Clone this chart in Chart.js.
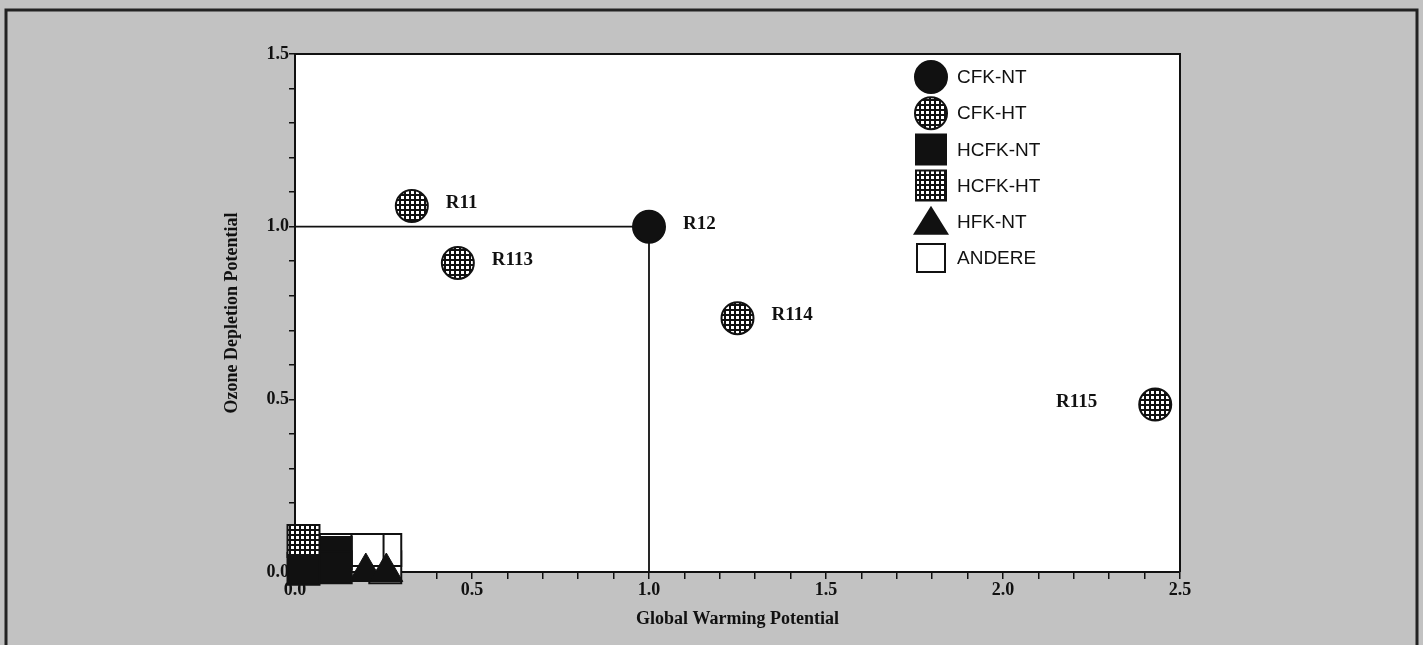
<!DOCTYPE html>
<html>
<head>
<meta charset="utf-8">
<script src="https://cdn.jsdelivr.net/npm/chart.js@4.4.0/dist/chart.umd.min.js"></script>
<style>
  body { margin: 0; background: #c2c2c2; }
  canvas { display: block; }
</style>
</head>
<body>
<canvas id="canvas" width="1423" height="645"></canvas>
<script>
// values (GWP, ODP)
var cfkNT = [{x: 1.0, y: 1.0}]
var cfkNTNames = ['R12']
var cfkHT = [{x: 0.33, y: 1.06}, {x: 0.46, y: 0.895}, {x: 1.25, y: 0.735}, {x: 2.43, y: 0.485}]
var cfkHTNames = ['R11', 'R113', 'R114', 'R115']
var hcfkNT = [{x: 0.115, y: 0.055}, {x: 0.115, y: 0.014}, {x: 0.024, y: 0.009}]
var hcfkHT = [{x: 0.024, y: 0.09}]
var hfkNT = [{x: 0.2, y: 0.0}, {x: 0.258, y: 0.0}]
// later entries are painted over earlier ones
var andere = [{x: 0.115, y: 0.064}, {x: 0.255, y: 0.014}, {x: 0.255, y: 0.064}, {x: 0.205, y: 0.064}]
var r12Lines = [{x: 0, y: 1}, {x: 1, y: 1}, {x: 1, y: 0}]

var legendNames = ['CFK-NT', 'CFK-HT', 'HCFK-NT', 'HCFK-HT', 'HFK-NT', 'ANDERE']
var xTickLabels = ['0.0', '0.5', '1.0', '1.5', '2.0', '2.5']
var yTickLabels = ['0.0', '0.5', '1.0', '1.5']

var ink = '#111'

function makeHatch() {
    var c = document.createElement('canvas')
    c.width = 5; c.height = 5
    var g = c.getContext('2d')
    g.fillStyle = ink
    g.fillRect(0, 0, 5, 5)
    g.fillStyle = '#fff'
    g.fillRect(1, 1, 3, 3)
    return g.createPattern(c, 'repeat')
}
var hatch = makeHatch()

function labelFor(list) {
    return function(value) {
        var s = Number(value).toFixed(1)
        return list.indexOf(s) >= 0 && Math.abs(value * 2 - Math.round(value * 2)) < 1e-6 ? s : ''
    }
}

// gray page, frame, white plot area
var backdrop = {
    id: 'backdrop',
    beforeDraw: function(chart) {
        var ctx = chart.ctx, a = chart.chartArea
        ctx.save()
        ctx.fillStyle = '#c2c2c2'
        ctx.fillRect(0, 0, chart.width, chart.height)
        ctx.strokeStyle = '#222'
        ctx.lineWidth = 3
        ctx.beginPath()
        ctx.moveTo(6, chart.height)
        ctx.lineTo(6, 10)
        ctx.lineTo(1417, 10)
        ctx.lineTo(1417, chart.height)
        ctx.stroke()
        ctx.fillStyle = '#fff'
        ctx.fillRect(a.left, a.top, a.right - a.left, a.bottom - a.top)
        ctx.restore()
    },
    afterDatasetsDraw: function(chart) {
        var ctx = chart.ctx, a = chart.chartArea
        ctx.save()
        ctx.strokeStyle = ink
        ctx.lineWidth = 2
        ctx.beginPath()
        ctx.moveTo(a.left, a.top)
        ctx.lineTo(a.right, a.top)
        ctx.lineTo(a.right, a.bottom)
        ctx.stroke()
        ctx.restore()
    }
}

// R-number labels next to the CFK points
var pointNames = {
    id: 'pointNames',
    afterDatasetsDraw: function(chart) {
        var ctx = chart.ctx
        var xs = chart.scales.x, ys = chart.scales.y
        ctx.save()
        ctx.font = 'bold 19px "Liberation Serif", serif'
        ctx.fillStyle = ink
        ctx.textBaseline = 'middle'
        function put(points, names) {
            points.forEach(function(p, i) {
                var px = xs.getPixelForValue(p.x), py = ys.getPixelForValue(p.y)
                if (names[i] == 'R115') {
                    ctx.textAlign = 'right'
                    ctx.fillText(names[i], px - 58, py - 2)
                } else {
                    ctx.textAlign = 'left'
                    ctx.fillText(names[i], px + 34, py - 3)
                }
            })
        }
        put(cfkNT, cfkNTNames)
        put(cfkHT, cfkHTNames)
        ctx.restore()
    }
}

// legend box inside the plot, top right
var markerLegend = {
    id: 'markerLegend',
    afterDraw: function(chart) {
        var ctx = chart.ctx
        var mx = 931, tx = 957, y0 = 77, step = 36.2
        ctx.save()
        ctx.font = '19px "Liberation Sans", Arial, sans-serif'
        ctx.textBaseline = 'middle'
        ctx.textAlign = 'left'
        legendNames.forEach(function(name, i) {
            var y = y0 + i * step
            ctx.strokeStyle = ink
            ctx.lineWidth = 2
            ctx.beginPath()
            if (i == 0 || i == 1) {
                ctx.arc(mx, y, 16, 0, Math.PI * 2)
                ctx.fillStyle = i == 0 ? ink : hatch
                ctx.fill(); ctx.stroke()
            } else if (i == 2 || i == 3) {
                ctx.rect(mx - 15, y - 15, 30, 30)
                ctx.fillStyle = i == 2 ? ink : hatch
                ctx.fill(); ctx.stroke()
            } else if (i == 4) {
                ctx.moveTo(mx, y - 16)
                ctx.lineTo(mx + 18, y + 13)
                ctx.lineTo(mx - 18, y + 13)
                ctx.closePath()
                ctx.fillStyle = ink
                ctx.fill()
            } else {
                ctx.rect(mx - 14, y - 14, 28, 28)
                ctx.fillStyle = '#fff'
                ctx.fill(); ctx.stroke()
            }
            ctx.fillStyle = ink
            ctx.fillText(name, tx, y + 1)
        })
        ctx.restore()
    }
}

var ctx = document.getElementById('canvas').getContext('2d')

var chart = new Chart(ctx, {
    type: 'scatter',
    data: {
        datasets: [
            { label: 'CFK-NT', data: cfkNT, pointStyle: 'circle', pointRadius: 16, backgroundColor: ink, borderColor: ink, borderWidth: 2 },
            { label: 'CFK-HT', data: cfkHT, pointStyle: 'circle', pointRadius: 16, backgroundColor: hatch, borderColor: ink, borderWidth: 2 },
            { label: 'HCFK-HT', data: hcfkHT, pointStyle: 'rect', pointRadius: 22.6, backgroundColor: hatch, borderColor: ink, borderWidth: 2 },
            { label: 'HCFK-NT', data: hcfkNT, pointStyle: 'rect', pointRadius: 22.6, backgroundColor: ink, borderColor: ink, borderWidth: 2 },
            { label: 'HFK-NT', data: hfkNT, pointStyle: 'triangle', pointRadius: 19, backgroundColor: ink, borderColor: ink, borderWidth: 1 },
            { label: 'ANDERE', data: andere, pointStyle: 'rect', pointRadius: 22.6, backgroundColor: '#fff', borderColor: ink, borderWidth: 2 },
            { label: 'R12', data: r12Lines, showLine: true, pointRadius: 0, borderColor: ink, borderWidth: 1.8, backgroundColor: ink }
        ]
    },
    options: {
        responsive: false,
        animation: false,
        clip: false,
        layout: { padding: { left: 222, right: 243, top: 54, bottom: 15 } },
        plugins: {
            legend: { display: false },
            tooltip: { enabled: false }
        },
        scales: {
            x: {
                type: 'linear',
                min: 0, max: 2.5,
                afterFit: function(scale) { scale.height = 58 },
                border: { display: true, color: ink, width: 2 },
                grid: { drawOnChartArea: false, drawTicks: true, tickLength: 7, color: ink, lineWidth: 1.5 },
                ticks: {
                    stepSize: 0.1, autoSkip: false, maxRotation: 0, padding: 1,
                    color: ink, font: { family: '"Liberation Serif", serif', size: 18, weight: 'bold' },
                    callback: labelFor(xTickLabels)
                },
                title: {
                    display: true, text: 'Global Warming Potential', color: ink,
                    font: { family: '"Liberation Serif", serif', size: 18, weight: 'bold' },
                    padding: { top: 0, bottom: 0 }
                }
            },
            y: {
                type: 'linear',
                min: 0, max: 1.5,
                afterFit: function(scale) { scale.width = 73 },
                border: { display: true, color: ink, width: 2 },
                grid: { drawOnChartArea: false, drawTicks: true, tickLength: 6, color: ink, lineWidth: 1.5 },
                ticks: {
                    stepSize: 0.1, autoSkip: false, padding: 0,
                    color: ink, font: { family: '"Liberation Serif", serif', size: 18, weight: 'bold' },
                    callback: labelFor(yTickLabels)
                },
                title: {
                    display: true, text: 'Ozone Depletion Potential', color: ink,
                    font: { family: '"Liberation Serif", serif', size: 18, weight: 'bold' },
                    padding: { top: 0, bottom: 0 }
                }
            }
        }
    },
    plugins: [backdrop, pointNames, markerLegend]
})
</script>
</body>
</html>
